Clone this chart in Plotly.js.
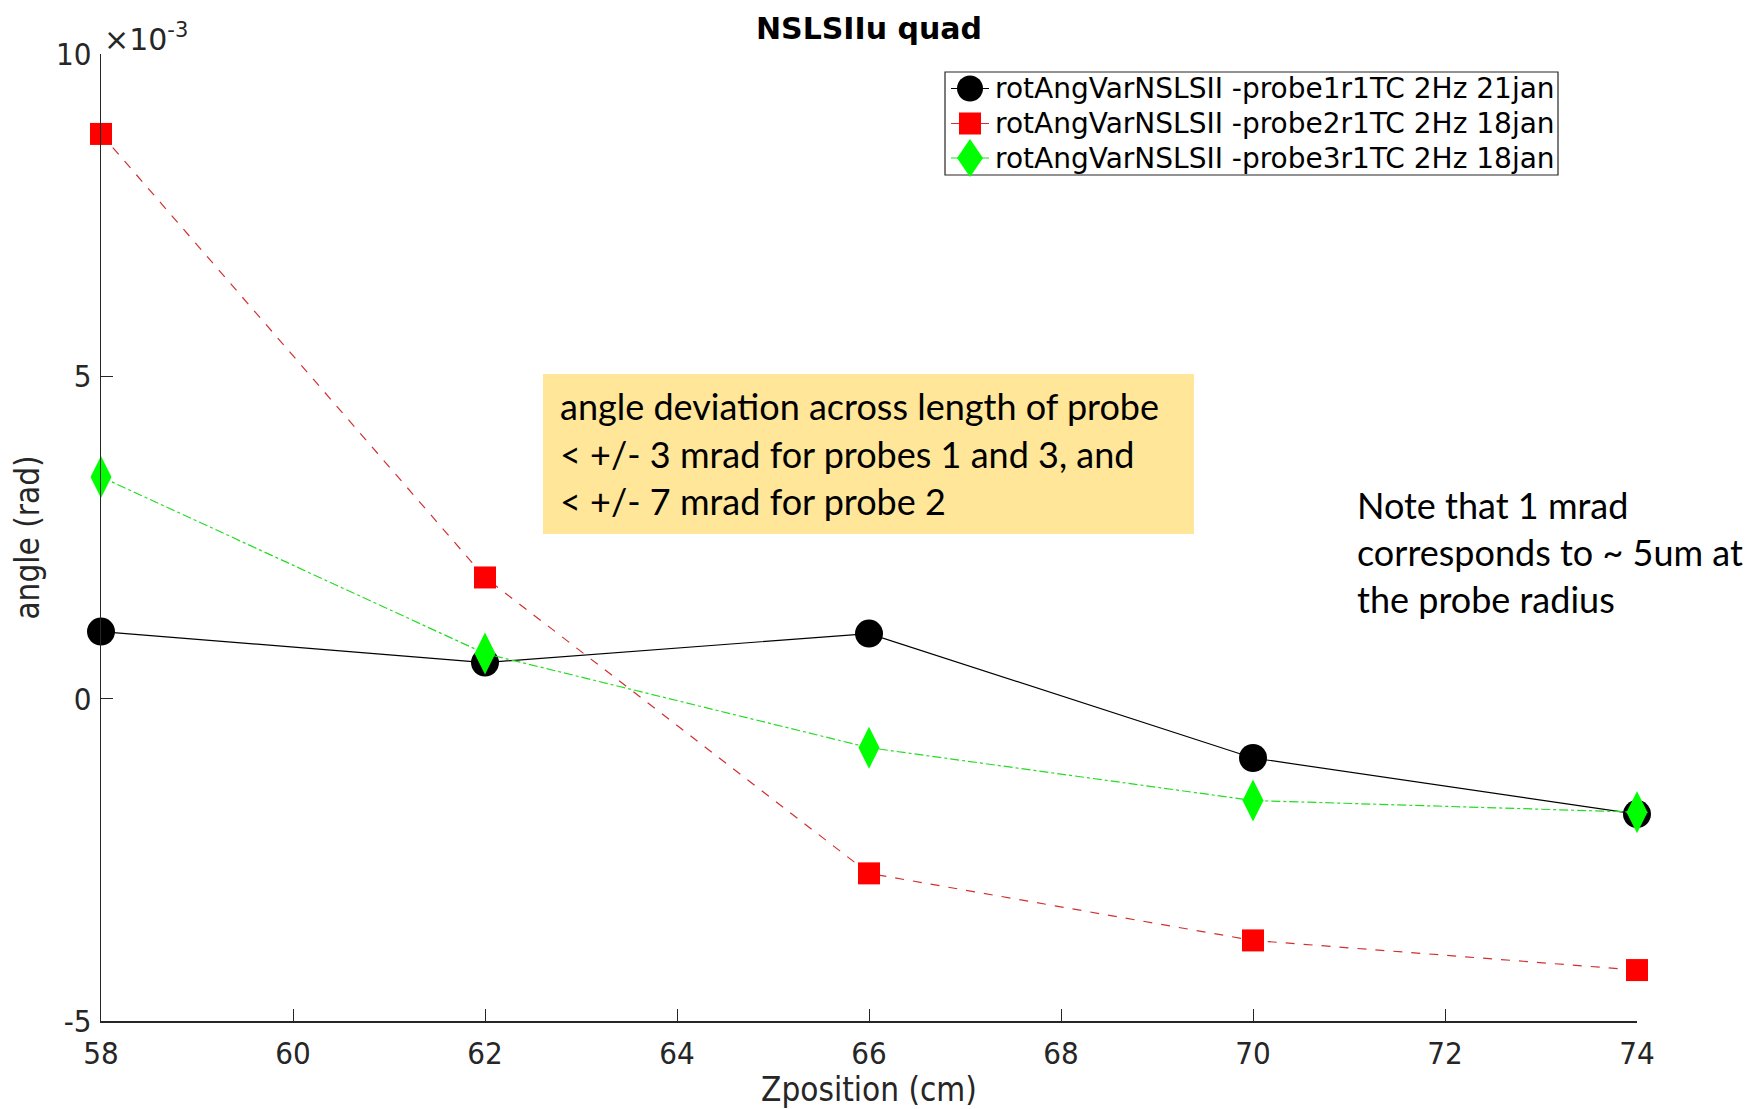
<!DOCTYPE html>
<html><head><meta charset="utf-8">
<script src="https://cdn.plot.ly/plotly-3.0.1.min.js"></script>
<style>html,body{margin:0;padding:0;background:#fff}#chart{width:1758px;height:1109px}</style>
</head><body><div id="chart"></div>
<script>
const zpos = [58, 62, 66, 70, 74];
const probe1 = [1.04, 0.56, 1.01, -0.92, -1.79];   // x1e-3 rad
const probe2 = [8.76, 1.88, -2.71, -3.75, -4.21];
const probe3 = [3.44, 0.70, -0.76, -1.58, -1.76];
const names = ["rotAngVarNSLSII -probe1r1TC 2Hz 21jan",
               "rotAngVarNSLSII -probe2r1TC 2Hz 18jan",
               "rotAngVarNSLSII -probe3r1TC 2Hz 18jan"];
const xTicks = [58, 60, 62, 64, 66, 68, 70, 72, 74];
const yTicks = [-5, 0, 5, 10];
const noteBox = ["angle deviation across length of probe",
                 "< +/- 3 mrad for probes 1 and 3, and",
                 "< +/- 7 mrad for probe 2"];
const noteSide = ["Note that 1 mrad", "corresponds to ~ 5um at", "the probe radius"];

const W = 1758, H = 1109, L = 101, R = 1637, T = 54, B = 1021;
const px = x => (x - L) / (R - L);
const py = y => (B - y) / (B - T);
const tickFont = {family: "DejaVu Sans Condensed, DejaVu Sans, sans-serif", size: 31, color: "#262626"};
const titleFont = {family: "DejaVu Sans Condensed, DejaVu Sans, sans-serif", size: 33, color: "#262626"};

const styles = [
  {line: {color: "#000000", width: 1.2}, marker: {symbol: "circle", size: 28, color: "#000000"}},
  {line: {color: "#d03030", width: 1.2, dash: "dash"}, marker: {symbol: "square", size: 22, color: "#ff0000"}},
  {line: {color: "#22dd22", width: 1.2, dash: "dashdot"}, marker: {symbol: "diamond-tall", size: 30, color: "#00ff00"}}
];
const series = [probe1, probe2, probe3];
const traces = series.map((s, i) => ({x: zpos, y: s, name: names[i], mode: "lines+markers",
  cliponaxis: false, line: styles[i].line, marker: styles[i].marker}));

const annotations = [
  {text: "×10<sup>-3</sup>", xref: "paper", yref: "paper", x: px(102), y: py(38),
   xanchor: "left", yanchor: "middle", showarrow: false,
   font: {family: "DejaVu Sans, sans-serif", size: 30, color: "#262626"}}
];
const boxLines = [406, 454, 501];
noteBox.forEach((t, i) => annotations.push({text: t, xref: "paper", yref: "paper",
  x: px(558), y: py(boxLines[i]), xanchor: "left", yanchor: "middle", showarrow: false,
  font: {family: "Lato, sans-serif", size: 36, color: "#000"}}));
const sideLines = [505, 552, 599];
noteSide.forEach((t, i) => annotations.push({text: t, xref: "paper", yref: "paper",
  x: px(1355), y: py(sideLines[i]), xanchor: "left", yanchor: "middle", showarrow: false,
  font: {family: "Lato, sans-serif", size: 36, color: "#000"}}));

// custom legend (MATLAB style): box, line samples, markers, labels
const shapes = [
  {type: "rect", xref: "paper", yref: "paper", x0: px(543), x1: px(1194), y0: py(534), y1: py(374),
   fillcolor: "#FFE699", line: {width: 0}, layer: "below"},
  {type: "rect", xref: "paper", yref: "paper", x0: px(945), x1: px(1558), y0: py(175), y1: py(72),
   fillcolor: "#ffffff", line: {color: "#262626", width: 1.2}, layer: "above"}
];
const legRows = [88.5, 123.5, 158];
const mx = 970;
names.forEach((n, i) => {
  const yy = py(legRows[i]);
  shapes.push({type: "line", xref: "paper", yref: "paper", x0: px(951), x1: px(989), y0: yy, y1: yy,
               line: {color: styles[i].line.color, width: 1.2}, layer: "above"});
  const m = styles[i].marker;
  if (m.symbol === "circle") {
    shapes.push({type: "circle", xref: "paper", yref: "paper", xsizemode: "pixel", ysizemode: "pixel",
      xanchor: px(mx), yanchor: yy, x0: -13, x1: 13, y0: -13, y1: 13,
      fillcolor: m.color, line: {width: 0}, layer: "above"});
  } else if (m.symbol === "square") {
    shapes.push({type: "rect", xref: "paper", yref: "paper", xsizemode: "pixel", ysizemode: "pixel",
      xanchor: px(mx), yanchor: yy, x0: -11, x1: 11, y0: -11, y1: 11,
      fillcolor: m.color, line: {width: 0}, layer: "above"});
  } else {
    shapes.push({type: "path", xref: "paper", yref: "paper", xsizemode: "pixel", ysizemode: "pixel",
      xanchor: px(mx), yanchor: yy, path: "M -13 0 L 0 19 L 13 0 L 0 -19 Z",
      fillcolor: m.color, line: {width: 0}, layer: "above"});
  }
  annotations.push({text: n, xref: "paper", yref: "paper", x: px(993), y: yy,
    xanchor: "left", yanchor: "middle", showarrow: false,
    font: {family: "DejaVu Sans, sans-serif", size: 28, color: "#000"}});
});

const layout = {
  width: W, height: H,
  margin: {l: L, r: W - R, t: T, b: H - B, pad: 0},
  paper_bgcolor: "#fff", plot_bgcolor: "#fff",
  showlegend: false,
  title: {text: "<b>NSLSIIu quad</b>", x: 869 / W, xanchor: "center", y: 1 - 28 / H, yanchor: "middle",
          font: {family: "DejaVu Sans, sans-serif", size: 30, color: "#000"}},
  xaxis: {range: [58, 74], tickvals: xTicks, ticktext: xTicks.map(String),
          showline: true, linecolor: "#262626", linewidth: 1.5, mirror: false,
          ticks: "inside", ticklen: 12, tickcolor: "#262626", showgrid: false, zeroline: false,
          tickfont: tickFont, ticklabelstandoff: 4, automargin: false,
          title: {text: "Zposition (cm)", font: titleFont, standoff: 12}},
  yaxis: {range: [-5, 10], tickvals: yTicks, ticktext: yTicks.map(String),
          showline: true, linecolor: "#262626", linewidth: 1.2, mirror: false,
          ticks: "inside", ticklen: 12, tickcolor: "#262626", showgrid: false, zeroline: false,
          tickfont: tickFont, ticklabelstandoff: 2, automargin: false,
          title: {text: "angle (rad)", font: titleFont, standoff: 6}},
  shapes: shapes,
  annotations: annotations
};
Plotly.newPlot("chart", traces, layout, {displayModeBar: false, staticPlot: true});
</script></body></html>
